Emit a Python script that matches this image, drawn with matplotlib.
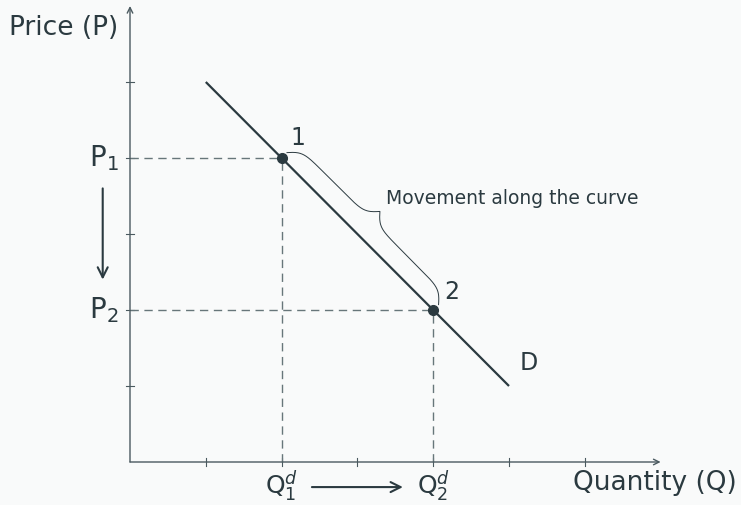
import numpy as np
import matplotlib
matplotlib.use("Agg")
import matplotlib.pyplot as plt

# demand curve D: straight line between two end points
demand_q = [1, 5]
demand_p = [5, 1]

# the two points on the curve
point_q = [2, 4]
point_p = [4, 2]
point_labels = ["1", "2"]

x_ticks = [1, 2, 3, 4, 5, 6]
y_ticks = [1, 2, 3, 4, 5]
x_max, y_max = 7, 6

BG = "#f9fafa"
INK = "#2b3a40"
AXIS = "#4a595f"
DASH = "#67767a"

plt.rcParams["font.family"] = ["DejaVu Sans"]
plt.rcParams["mathtext.fontset"] = "dejavusans"

fig = plt.figure(figsize=(7.41, 5.05), dpi=100, facecolor=BG)
ax = fig.add_axes([0, 0, 1, 1])
ax.set_facecolor(BG)
ax.axis("off")
ux, uy = 75.8, 76.0
ax.set_xlim(-130 / ux, (741 - 130) / ux)
ax.set_ylim(-(505 - 462) / uy, 462 / uy)

# axes with arrows
ax.annotate("", xy=(x_max, 0), xytext=(0, 0),
            arrowprops=dict(arrowstyle="->", color=AXIS, lw=1.0, shrinkA=0, shrinkB=0))
ax.annotate("", xy=(0, y_max), xytext=(0, 0),
            arrowprops=dict(arrowstyle="->", color=AXIS, lw=1.0, shrinkA=0, shrinkB=0))
tk = 0.05
for t in x_ticks:
    ax.plot([t, t], [-tk, tk], color=AXIS, lw=0.8)
for t in y_ticks:
    ax.plot([-tk, tk], [t, t], color=AXIS, lw=0.8)

# dashed guides
for q, p in zip(point_q, point_p):
    ax.plot([0, q], [p, p], color=DASH, lw=1.0, dashes=(6, 4))
    ax.plot([q, q], [0, p], color=DASH, lw=1.0, dashes=(6, 4))

# demand line and points
ax.plot(demand_q, demand_p, color=INK, lw=1.6, solid_capstyle="butt")
ax.plot(point_q, point_p, "o", color=INK, ms=7)
ax.text(point_q[0] + 0.22, point_p[0] + 0.26, point_labels[0], fontsize=17,
        color=INK, ha="center", va="center")
ax.text(point_q[1] + 0.24, point_p[1] + 0.24, point_labels[1], fontsize=17,
        color=INK, ha="center", va="center")
ax.text(demand_q[1] + 0.26, demand_p[1] + 0.3, "D", fontsize=17, color=INK,
        ha="center", va="center")

# curly brace between the two points, offset from the line
p0 = np.array([point_q[0], point_p[0]], float)
p1 = np.array([point_q[1], point_p[1]], float)
d = p1 - p0
L = np.hypot(*d)
u = d / L
n = np.array([-u[1], u[0]])
if n[0] < 0:
    n = -n
start = p0 + n * 0.1
end = p1 + n * 0.1
L2 = np.hypot(*(end - start))
beta = 40.0 / L2
s_half = np.linspace(0, L2 / 2, 200)
y_half = (1 / (1 + np.exp(-beta * (s_half - s_half[0])))
          + 1 / (1 + np.exp(-beta * (s_half - s_half[-1]))))
s = np.concatenate([s_half, L2 - s_half[::-1]])
yb = (np.concatenate([y_half, y_half[::-1]]) - 0.5) * 0.32
bx = start[0] + u[0] * s + n[0] * yb
by = start[1] + u[1] * s + n[1] * yb
ax.plot(bx, by, color=INK, lw=0.7)
tip = start + u * L2 / 2 + n * 0.32
ax.text(tip[0] + 0.08, tip[1] + 0.17, "Movement along the curve", fontsize=13.5,
        color=INK, ha="left", va="center")

# axis titles and tick labels
ax.text(-0.16, 5.71, "Price (P)", fontsize=19, color=INK, ha="right", va="center")
ax.text(8.0, -0.27, "Quantity (Q)", fontsize=19, color=INK, ha="right", va="center")
ax.text(-0.15, point_p[0], r"$\mathrm{P}_1$", fontsize=20, color=INK, ha="right", va="center")
ax.text(-0.15, point_p[1], r"$\mathrm{P}_2$", fontsize=20, color=INK, ha="right", va="center")
ax.text(point_q[0], -0.43, r"$\mathrm{Q}_1^d$", fontsize=18, color=INK, ha="center", va="baseline")
ax.text(point_q[1], -0.43, r"$\mathrm{Q}_2^d$", fontsize=18, color=INK, ha="center", va="baseline")

# movement arrows
ax.annotate("", xy=(-0.36, 2.4), xytext=(-0.36, 3.6),
            arrowprops=dict(arrowstyle="->", color=INK, lw=1.5, shrinkA=0, shrinkB=0,
                            mutation_scale=18))
ax.annotate("", xy=(3.6, -0.33), xytext=(2.4, -0.33),
            arrowprops=dict(arrowstyle="->", color=INK, lw=1.5, shrinkA=0, shrinkB=0,
                            mutation_scale=18))

fig.savefig("out.png", dpi=100, facecolor=BG)
